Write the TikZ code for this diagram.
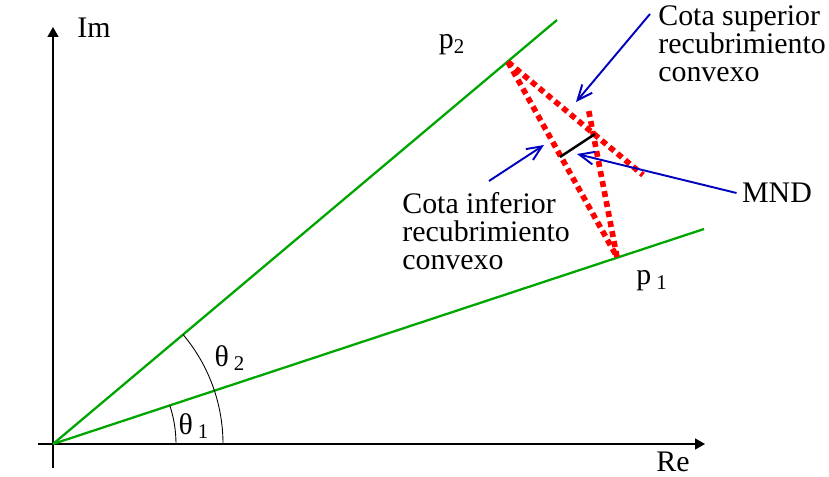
\documentclass[tikz,border=0pt]{standalone}
\usepackage{fontspec}
\setmainfont{Liberation Serif}
\usetikzlibrary{arrows.meta}

\begin{document}
\begin{tikzpicture}[x=0.02cm,y=0.02cm,font=\fontsize{17}{16}\selectfont,
 ax/.style={line width=0.9pt,-{Triangle[length=2mm,width=2.2mm]}},
 gr/.style={line width=1.3pt,green!65!black},
 rd/.style={line width=3.2pt,red,dash pattern=on 3.4pt off 2.4pt},
 bl/.style={line width=1.1pt,blue!75!black,-{Straight Barb[length=3mm,width=2.6mm]}},
 an/.style={line width=0.5pt},
 lb/.style={inner sep=0pt,align=left}]
\useasboundingbox (-53,-33) rectangle (776,444);
% ejes
\coordinate (O) at (0,0);
\coordinate (xs) at (-15,0); \coordinate (xe) at (652,0);
\coordinate (ys) at (0,-24); \coordinate (ye) at (0,417);
\draw[ax] (xs)--(xe); \draw[ax] (ys)--(ye);
\node[inner sep=0pt] (re) at (620,-18) {Re};
\node (im) at (41,416) {Im};
% rectas de los polos
\coordinate (e1) at (651,215); \coordinate (e2) at (504,424);
\coordinate (p1) at (564,187); \coordinate (p2) at (455,382);
\draw[gr] (O)--(e1); \draw[gr] (O)--(e2);
\node (lp1) at (599,163) {p\,\textsubscript{1}};
\node (lp2) at (399,399) {p\textsubscript{2}};
% angulos
\draw[an] (123,0) arc[start angle=0,end angle=18.3,radius=123];
\draw[an] (170,0) arc[start angle=0,end angle=40.1,radius=170];
\node (t1) at (141,18) {θ\,\textsubscript{1}};
\node (t2) at (177,86) {θ\,\textsubscript{2}};
% cotas
\coordinate (u) at (590,269); \coordinate (c) at (535,337);
\draw[rd] (p2)--(p1); \draw[rd] (p2)--(u); \draw[rd] (p1)--(c);
\coordinate (m1) at (507,287); \coordinate (m2) at (542,310);
\draw[line width=1.4pt] (m1)--(m2);
\node[lb,anchor=north west] (sup) at (605,439) {Cota superior\\ recubrimiento\\ convexo};
\node[lb,anchor=north west] (inf) at (349,252) {Cota inferior\\ recubrimiento\\ convexo};
\node[lb] (mnd) at (724,251) {MND};
\coordinate (sups) at (597,430); \coordinate (supt) at (523,342);
\coordinate (infs) at (436,263); \coordinate (inft) at (491,299);
\coordinate (mndt) at (524,290);
\draw[bl] (sups)--(supt); \draw[bl] (infs)--(inft);
\draw[bl] ([xshift=-3pt]mnd.west)--(mndt);
\end{tikzpicture}
\end{document}
